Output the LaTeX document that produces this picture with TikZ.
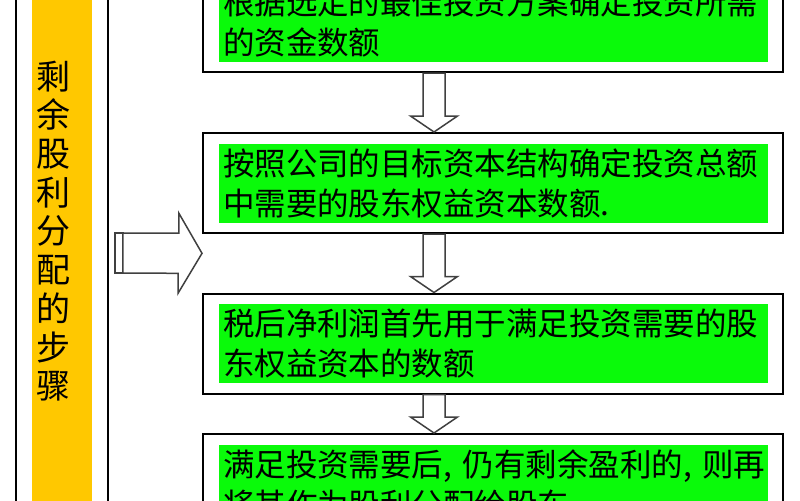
\documentclass[tikz,border=0pt]{standalone}
\usepackage{fontspec}
\newfontfamily\cjk{Noto Sans CJK SC}
\usetikzlibrary{calc}

\begin{document}
\begin{tikzpicture}[x=0.5pt, y=-0.5pt, every node/.style={font=\cjk},
	frame/.style={draw=black, line width=1pt, fill=white, minimum width=290pt, minimum height=50pt, inner sep=0pt},
	greenbox/.style={fill=lgreen, minimum width=274.5pt, minimum height=39.5pt, text width=270pt, inner xsep=2.25pt, inner ysep=0pt, align=left, font=\cjk\fontsize{15.75pt}{20pt}\selectfont},
	hollow/.style={draw=black!75, line width=0.75pt, fill=white, line join=miter}]
		% Steps of the residual dividend policy

% Colors

\definecolor{lgreen}{RGB}{10,250,10}
\definecolor{lorange}{RGB}{255,200,0}

% Frame
\useasboundingbox (0,0) rectangle (800,500);
\clip (0,0) rectangle (800,500);
\fill[white] (0,0) rectangle (800,500);

% Outline
\coordinate (c1) at (493,22);
\coordinate (c2) at (493,183);
\coordinate (c3) at (493,343.5);
\coordinate (c4) at (493,484);
\coordinate (ax) at (434,0);
\coordinate (L1) at (62,250);

% Title column
\node[draw, line width=0.75pt, minimum width=46pt, minimum height=300pt] (lbox) at (L1) {};
\node[fill=lorange, minimum width=30pt, minimum height=300pt, inner sep=0pt] (lbar) at (L1) {};
\node[align=center, font=\cjk\fontsize{17pt}{19.35pt}\selectfont] (steps) at (53,231) {剩\\余\\股\\利\\分\\配\\的\\步\\骤};

% Nodes
\node[frame] (b1) at (c1) {};
\node[greenbox] (g1) at (c1) {根据选定的最佳投资方案确定投资所需\\的资金数额};
\node[frame] (b2) at (c2) {};
\node[greenbox] (g2) at (c2) {按照公司的目标资本结构确定投资总额\\中需要的股东权益资本数额.};
\node[frame] (b3) at (c3) {};
\node[greenbox] (g3) at (c3) {税后净利润首先用于满足投资需要的股\\东权益资本的数额};
\node[frame] (b4) at (c4) {};
\node[greenbox] (g4) at (c4) {满足投资需要后,~仍有剩余盈利的,~则再\\将其作为股利分配给股东};

% Connections
\coordinate (rtail) at ($(lbox.east)+(6,3)$);
\coordinate (rtip) at ($(b2.south west)!0.33!(b3.north west)$);
\draw[hollow] ($(rtail)+(0,-20)$) rectangle ($(rtail)+(8,20)$);
\draw[hollow] ($(rtail)+(8,-20)$) -- ++(56,0) -- ++(0,-20) -- (rtip) -- ++(-24,40) -- ++(0,-20) -- ($(rtail)+(8,20)$) -- cycle;

\draw[hollow] ($(b1.south -| ax)+(-11,0)$) -- ($(b2.north -| ax)+(-11,-16)$) -- ++(-12.5,0) -- (b2.north -| ax) -- ++(23.5,-16) -- ++(-12.5,0) -- ($(b1.south -| ax)+(11,0)$) -- cycle;
\draw[hollow] ($(b2.south -| ax)+(-11,0)$) -- ($(b3.north -| ax)+(-11,-16)$) -- ++(-12.5,0) -- (b3.north -| ax) -- ++(23.5,-16) -- ++(-12.5,0) -- ($(b2.south -| ax)+(11,0)$) -- cycle;
\draw[hollow] ($(b3.south -| ax)+(-11,0)$) -- ($(b4.north -| ax)+(-11,-16)$) -- ++(-12.5,0) -- (b4.north -| ax) -- ++(23.5,-16) -- ++(-12.5,0) -- ($(b3.south -| ax)+(11,0)$) -- cycle;
	\end{tikzpicture}
\end{document}
